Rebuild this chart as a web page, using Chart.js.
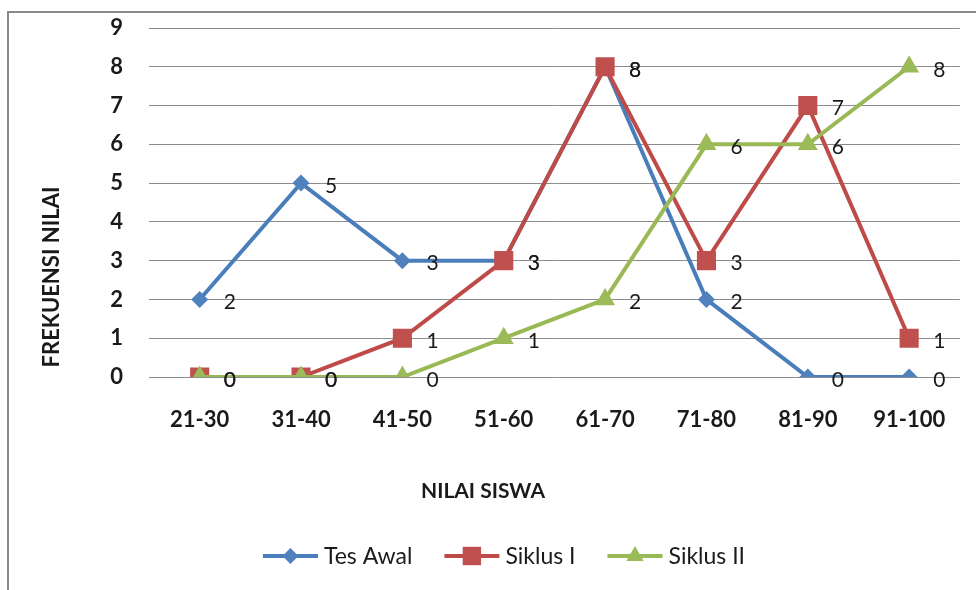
<!DOCTYPE html>
<html><head><meta charset="utf-8">
<script src="https://cdn.jsdelivr.net/npm/chart.js@4.4.1/dist/chart.umd.min.js"></script>
<style>html,body{margin:0;padding:0;background:#fff}#wrap{width:976px;height:590px;position:relative}</style>
</head><body><div id="wrap"><canvas id="c"></canvas></div>
<script>
const categories = ['21-30','31-40','41-50','51-60','61-70','71-80','81-90','91-100'];
const tesAwal  = [2,5,3,3,8,2,0,0];
const siklusI  = [0,0,1,3,8,3,7,1];
const siklusII = [0,0,0,1,2,6,6,8];
const yTickValues = [0,1,2,3,4,5,6,7,8,9];
const seriesNames = ['Tes Awal','Siklus I','Siklus II'];
const xTitle = 'NILAI SISWA';
const yTitle = 'FREKUENSI NILAI';

const FONT = 'Lato, "Open Sans", sans-serif';
const TXT = '#1a1a1a';

const styles = [
  {line:'#4A7EBB', fill:'#4F81BD', point:'rectRot', r:8.5},
  {line:'#BE4B48', fill:'#C0504D', point:'rect', r:13.5},
  {line:'#98B954', fill:'#9BBB59', point:'triangle', r:11.5}
];
const seriesData = [tesAwal, siklusI, siklusII];

const datasets = seriesData.map((d,i)=>({
  label: seriesNames[i],
  data: d,
  borderColor: styles[i].line,
  backgroundColor: styles[i].fill,
  borderWidth: 4,
  pointStyle: styles[i].point,
  pointRadius: styles[i].r,
  pointHoverRadius: styles[i].r,
  pointBorderWidth: 0,
  pointBackgroundColor: styles[i].fill,
  tension: 0,
  order: 3 - i
}));

const framePlugin = {
  id:'frame',
  beforeDraw(chart){
    const ctx = chart.ctx;
    ctx.save();
    ctx.fillStyle = '#fff';
    ctx.fillRect(0,0,chart.width,chart.height);
    ctx.strokeStyle = '#8a8a8a';
    ctx.lineWidth = 2;
    ctx.strokeRect(8, 12, chart.width + 20, chart.height + 20);
    ctx.restore();
  }
};

const labelPlugin = {
  id:'dlabels',
  afterDatasetsDraw(chart){
    const ctx = chart.ctx;
    ctx.save();
    ctx.font = '21px ' + FONT;
    ctx.fillStyle = TXT;
    ctx.textAlign = 'left';
    ctx.textBaseline = 'middle';
    chart.data.datasets.forEach((ds, i)=>{
      const meta = chart.getDatasetMeta(i);
      meta.data.forEach((pt, j)=>{
        ctx.fillText(String(ds.data[j]), pt.x + 24, pt.y + 3);
      });
    });
    ctx.restore();
  }
};

const decoPlugin = {
  id:'deco',
  afterDraw(chart){
    const ctx = chart.ctx;
    ctx.save();
    ctx.fillStyle = TXT;
    ctx.font = 'bold 21px ' + FONT;
    ctx.textAlign = 'center';
    ctx.textBaseline = 'middle';
    ctx.fillText(xTitle, 483, 491);
    ctx.save();
    ctx.translate(52, 277);
    ctx.rotate(-Math.PI/2);
    ctx.font = 'bold 22px ' + FONT;
    ctx.fillText(yTitle, 0, 0);
    ctx.restore();
    // legend
    ctx.font = '23px ' + FONT;
    const lineLen = 55, gapText = 6, gapItem = 32;
    const widths = seriesNames.map(n => lineLen + gapText + ctx.measureText(n).width);
    const total = widths.reduce((a,b)=>a+b,0) + gapItem*(widths.length-1);
    let x = 504 - total/2;
    const y = 556;
    seriesNames.forEach((n,i)=>{
      ctx.strokeStyle = styles[i].line;
      ctx.lineWidth = 4;
      ctx.beginPath();
      ctx.moveTo(x, y); ctx.lineTo(x + lineLen, y);
      ctx.stroke();
      ctx.fillStyle = styles[i].fill;
      const rr = styles[i].point === 'rect' ? 13 : (styles[i].point==='triangle'? 10 : 8);
      Chart.helpers.drawPoint(ctx, {pointStyle: styles[i].point, radius: rr, rotation: 0, borderWidth: 0}, x + lineLen/2, y);
      ctx.fillStyle = TXT;
      ctx.textAlign = 'left';
      ctx.textBaseline = 'middle';
      ctx.fillText(n, x + lineLen + gapText, y + 1);
      x += widths[i] + gapItem;
    });
    ctx.restore();
  }
};

new Chart(document.getElementById('c'), {
  type:'line',
  data:{ labels: categories, datasets },
  options:{
    responsive:true,
    maintainAspectRatio:false,
    animation:false,
    events:[],
    layout:{ padding:{ top:28, right:13, left:0, bottom:0 } },
    plugins:{ legend:{display:false}, tooltip:{enabled:false}, title:{display:false} },
    scales:{
      x:{
        type:'category',
        offset:true,
        grid:{ display:false, drawTicks:false },
        border:{ display:false },
        ticks:{ color:TXT, font:{ family:FONT, size:22, weight:'bold' }, padding:30, maxRotation:0, autoSkip:false },
        afterFit(scale){ scale.height = 213; }
      },
      y:{
        min:0, max:9,
        afterBuildTicks(scale){ scale.ticks = yTickValues.map(v=>({value:v})); },
        grid:{ color:'#8c8c8c', lineWidth:1, drawTicks:false },
        border:{ display:false },
        ticks:{ color:TXT, font:{ family:FONT, size:22, weight:'bold' }, padding:26 },
        afterFit(scale){ scale.width = 149; scale.paddingTop = 0; scale.paddingBottom = 0; }
      }
    }
  },
  plugins:[framePlugin, labelPlugin, decoPlugin]
});
</script>
</body></html>
